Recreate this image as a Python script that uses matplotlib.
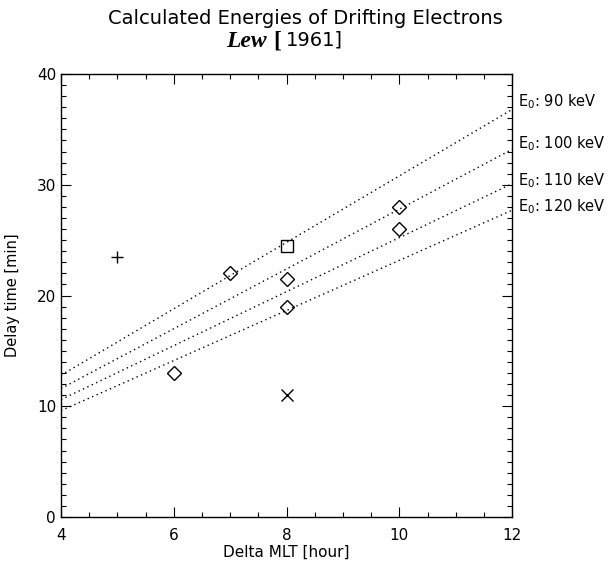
import numpy as np
import matplotlib.pyplot as plt
from matplotlib.ticker import MultipleLocator

# model lines: delay time at dMLT = 4 and 12 for each E0
line_x = [4, 12]
energies = [90, 100, 110, 120]
line_y = [[12.8, 36.8], [11.6, 33.2], [10.6, 30.1], [9.6, 27.7]]
label_y = [37.5, 33.7, 30.4, 28.0]

# observations
diamond_x = [6, 7, 8, 8, 10, 10]
diamond_y = [13, 22, 21.5, 19, 28, 26]
square_x, square_y = [8], [24.5]
plus_x, plus_y = [5], [23.5]
cross_x, cross_y = [8], [11]

plt.rcParams['font.family'] = ['DejaVu Sans']
plt.rcParams['text.color'] = 'black'

fig = plt.figure(figsize=(6.11, 5.64), dpi=100)
ax = fig.add_axes([0.0998, 0.0833, 0.7384, 0.7855])

for ys in line_y:
    ax.plot(line_x, ys, color='black', linestyle=(0, (1, 2.5)), linewidth=1.0)

ax.plot(diamond_x, diamond_y, 'D', markersize=7, markerfacecolor='none',
        markeredgecolor='black', markeredgewidth=1.0, linestyle='none')
ax.plot(square_x, square_y, 's', markersize=8, markerfacecolor='none',
        markeredgecolor='black', markeredgewidth=1.0, linestyle='none')
ax.plot(plus_x, plus_y, '+', markersize=9, color='black', markeredgewidth=1.0)
ax.plot(cross_x, cross_y, 'x', markersize=9, color='black', markeredgewidth=1.0)

for e, y in zip(energies, label_y):
    ax.text(12.1, y, f'E$_0$: {e} keV', fontsize=10.5, va='center', ha='left',
            clip_on=False)

ax.set_xlim(4, 12)
ax.set_ylim(0, 40)
ax.xaxis.set_major_locator(MultipleLocator(2))
ax.xaxis.set_minor_locator(MultipleLocator(0.5))
ax.yaxis.set_major_locator(MultipleLocator(10))
ax.yaxis.set_minor_locator(MultipleLocator(1))
ax.tick_params(which='both', direction='in', top=True, right=True,
               labelsize=11, labelcolor='black')
ax.tick_params(which='major', length=7, width=0.8)
ax.tick_params(which='minor', length=3.5, width=0.8)
ax.tick_params(axis='x', pad=8)
for s in ax.spines.values():
    s.set_linewidth(1.0)

ax.set_xlabel('Delta MLT [hour]', fontsize=11, labelpad=1)
ax.set_ylabel('Delay time [min]', fontsize=10.5, labelpad=12)

fig.text(0.5, 0.967, 'Calculated Energies of Drifting Electrons', ha='center',
         va='center', fontsize=14)
fig.text(0.437, 0.927, 'Lew', ha='right', va='center', fontsize=17,
         family='Liberation Serif', style='italic', weight='bold')
fig.text(0.448, 0.927, '[', ha='left', va='center', fontsize=17,
         family='Liberation Serif', weight='bold')
fig.text(0.468, 0.929, '1961]', ha='left', va='center', fontsize=14)

fig.savefig('out.png', dpi=100)
